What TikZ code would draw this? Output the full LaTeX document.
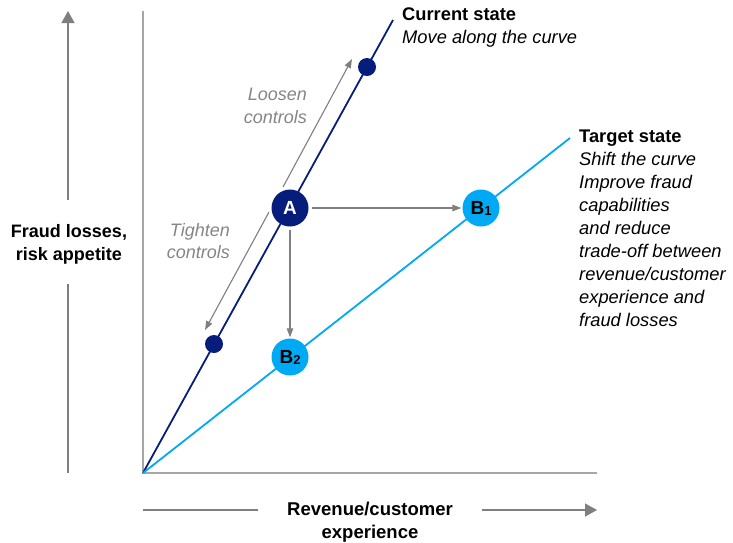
\documentclass[tikz,border=0pt]{standalone}
\usepackage{fontspec}
\setmainfont{Liberation Sans}
\usetikzlibrary{arrows.meta}
\definecolor{navy}{HTML}{071D7C}
\definecolor{sky}{HTML}{00A9F4}
\definecolor{arrgray}{HTML}{7F7F7F}
\definecolor{axgray}{HTML}{A6A6A6}
\definecolor{txtgray}{HTML}{858585}
\newcommand{\subdig}[1]{\raisebox{-1pt}{\fontsize{13}{13}\selectfont #1}}
\begin{document}
\begin{tikzpicture}[x=1pt,y=-1pt,
  lbl/.style={inner sep=0pt, font=\fontsize{18.3}{23}\selectfont},
  bigdot/.style={circle, minimum size=37pt, inner sep=0pt, font=\fontsize{19}{19}\selectfont\bfseries},
  smalldot/.style={circle, fill=navy, minimum size=18pt, inner sep=0pt},
  axline/.style={draw=axgray, line width=1.4pt},
  bigarrow/.style={draw=arrgray, line width=1.4pt, -{Triangle[width=13pt,length=12pt]}},
  plainaxis/.style={draw=arrgray, line width=1.4pt},
  garrow/.style={draw=arrgray, line width=1.1pt, -{Triangle[width=6.5pt,length=9pt]}},
  curve/.style={line width=1.8pt}
]
\useasboundingbox (0,0) rectangle (733,542);

% coordinates
\coordinate (O) at (143,473);
\coordinate (Ytop) at (143,11);
\coordinate (Xend) at (597,473);
\coordinate (Cend) at (393,20);
\coordinate (Tend) at (570,138);

% axes
\draw[axline] (Ytop) -- (O) -- (Xend);

% curves
\draw[curve, navy] (O) -- (Cend);
\draw[curve, sky] (O) -- (Tend);

% dots
\node[bigdot, fill=navy, text=white] (A) at (290,208) {A};
\node[bigdot, fill=sky, text=black] (B1) at (481,208) {B\subdig{1}};
\node[bigdot, fill=sky, text=black] (B2) at (290,357) {B\subdig{2}};
\node[smalldot] (D1) at (367,67) {};
\node[smalldot] (D2) at (214,344) {};

% arrows from A
\draw[garrow, shorten <=3pt, shorten >=1pt] (A) -- (B1);
\draw[garrow, shorten <=3pt, shorten >=1pt] (A) -- (B2);

% loosen / tighten arrows
\coordinate (L0) at (283,187);
\coordinate (L1) at (352,59);
\coordinate (T0) at (269,212);
\coordinate (T1) at (205,330);
\draw[garrow] (L0) -- (L1);
\draw[garrow] (T0) -- (T1);

% labels
\node[lbl, text=txtgray, anchor=north east, align=right, font=\fontsize{18}{22.5}\selectfont\itshape] (loosen) at (307,88) {Loosen\\controls};
\node[lbl, text=txtgray, anchor=north east, align=right, font=\fontsize{18}{22.5}\selectfont\itshape] (tighten) at (230,223) {Tighten\\controls};

\node[lbl, anchor=north west, align=left] (cur) at (402,8) {\textbf{Current state}\\\textit{Move along the curve}};
\node[lbl, anchor=north west, align=left] (tgt) at (579,130) {\textbf{Target state}\\\textit{Shift the curve}\\\textit{Improve fraud}\\\textit{capabilities}\\\textit{and reduce}\\\textit{trade-off between}\\\textit{revenue/customer}\\\textit{experience and}\\\textit{fraud losses}};

% y-axis label and arrow
\node[lbl, anchor=north, align=center, font=\fontsize{18}{23}\selectfont\bfseries] (ylab) at (69,224) {Fraud losses,\\risk appetite};
\coordinate (Ya) at (68,200);
\coordinate (Yb) at (68,11);
\coordinate (Yc) at (68,284);
\coordinate (Yd) at (68,473);
\draw[bigarrow] (Ya) -- (Yb);
\draw[plainaxis] (Yc) -- (Yd);

% x-axis label and arrow
\node[lbl, anchor=north, align=center, font=\fontsize{18.5}{23}\selectfont\bfseries] (xlab) at (370,502) {Revenue/customer\\experience};
\coordinate (Xa) at (143,510);
\coordinate (Xb) at (258,510);
\coordinate (Xc) at (482,510);
\coordinate (Xd) at (597,510);
\draw[plainaxis] (Xa) -- (Xb);
\draw[bigarrow] (Xc) -- (Xd);
\end{tikzpicture}
\end{document}
